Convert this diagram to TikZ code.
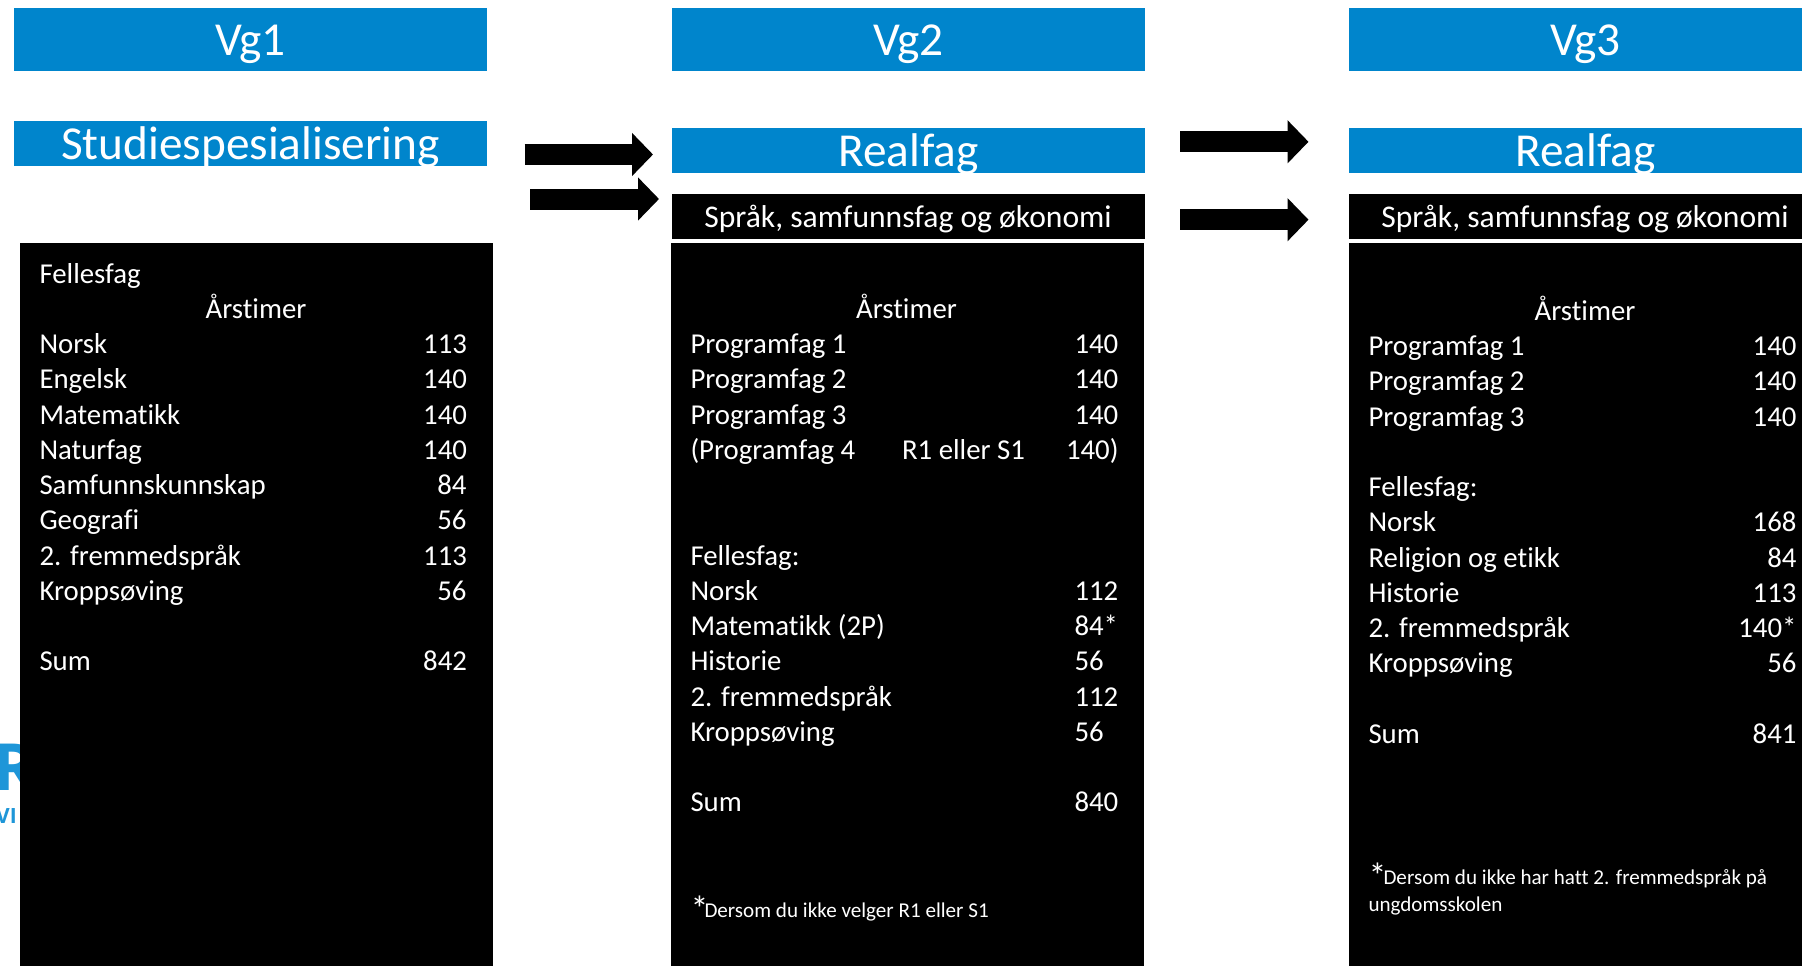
\documentclass[tikz,border=0pt]{standalone}
\usepackage{fontspec}
\setmainfont{Carlito}[Ligatures=CommonOff]
\newfontfamily\logofont{Open Sans}
\usetikzlibrary{arrows.meta}
\definecolor{headblue}{HTML}{0085CC}
\definecolor{logoblue}{HTML}{1E96D8}
\tikzset{
  headbox/.style={fill=headblue,draw=none},
  blackbox/.style={fill=black,draw=none},
  txt/.style={inner sep=0pt,outer sep=0pt,text=white,font=\fontsize{28.8}{35}\selectfont},
  rowl/.style={txt,anchor=base west},
  rowr/.style={txt,anchor=base east},
  rowc/.style={txt,anchor=base},
  headtxt/.style={inner sep=0pt,outer sep=0pt,text=white,anchor=base,font=\fontsize{47.3}{56}\selectfont},
  subtxt/.style={inner sep=0pt,outer sep=0pt,text=white,anchor=base,font=\fontsize{31.6}{38}\selectfont},
  foot/.style={inner sep=0pt,outer sep=0pt,text=white,anchor=base west,font=\fontsize{21.1}{25}\selectfont},
  star/.style={inner sep=0pt,outer sep=0pt,text=white,anchor=base west,font=\fontsize{36}{40}\selectfont},
  blockarrow/.style={line width=21pt,-{Triangle[length=21pt,width=42pt]}},
}
\begin{document}
\begin{tikzpicture}[x=1pt,y=-1pt]
\useasboundingbox (0,0) rectangle (1802,966);
\fill[white] (0,0) rectangle (1802,966);
% logo fragment
\begin{scope}
\clip (0,700) rectangle (20,840);
\node[inner sep=0pt,anchor=base west,text=logoblue,font=\logofont\bfseries\fontsize{65}{70}\selectfont] (logoa) at (-7,790) {R};
\node[inner sep=0pt,anchor=base west,text=logoblue,font=\logofont\bfseries\fontsize{21}{24}\selectfont] (logob) at (-4,823) {VI};
\end{scope}
% boxes
\fill[headbox] (14,8) rectangle (487,71);
\fill[headbox] (14,121) rectangle (487,166);
\fill[blackbox] (20,243) rectangle (493,966);
\fill[headbox] (672,8) rectangle (1145,71);
\fill[headbox] (672,128) rectangle (1145,173);
\fill[blackbox] (672,194) rectangle (1145,239);
\fill[blackbox] (671,243) rectangle (1144,966);
\fill[headbox] (1349,8) rectangle (1802,71);
\fill[headbox] (1349,128) rectangle (1802,173);
\fill[blackbox] (1349,194) rectangle (1802,239);
\fill[blackbox] (1349,243) rectangle (1802,966);
% arrows
\coordinate (a1s) at (524.5,154.5); \coordinate (a1e) at (653,154.5);
\coordinate (a2s) at (530,199); \coordinate (a2e) at (659,199);
\coordinate (a3s) at (1180,141.8); \coordinate (a3e) at (1308.5,141.8);
\coordinate (a4s) at (1180,219.7); \coordinate (a4e) at (1308.5,219.7);
\draw[blockarrow] (a1s) -- (a1e);
\draw[blockarrow] (a2s) -- (a2e);
\draw[blockarrow] (a3s) -- (a3e);
\draw[blockarrow] (a4s) -- (a4e);
% headers
\node[headtxt] (vg1) at (250.5,56) {Vg1};
\node[headtxt] (stu) at (250.5,159) {Studiespesialisering};
\node[headtxt] (vg2) at (908.5,56) {Vg2};
\node[headtxt] (rf2) at (908.5,166.5) {Realfag};
\node[subtxt] (sp2) at (908,227.5) {Språk, samfunnsfag og økonomi};
\node[headtxt] (vg3) at (1585.5,56) {Vg3};
\node[headtxt] (rf3) at (1585.5,166.5) {Realfag};
\node[subtxt] (sp3) at (1585,227.5) {Språk, samfunnsfag og økonomi};
% panel 1
\node[rowl] (p1h) at (39.5,283) {Fellesfag};
\node[rowc] (p1a) at (256,318.25) {Årstimer};
\node[rowl] (p1l1) at (39.5,353.5) {Norsk};          \node[rowr] (p1n1) at (467,353.5) {113};
\node[rowl] (p1l2) at (39.5,388.75) {Engelsk};        \node[rowr] (p1n2) at (467,388.75) {140};
\node[rowl] (p1l3) at (39.5,424) {Matematikk};     \node[rowr] (p1n3) at (467,424) {140};
\node[rowl] (p1l4) at (39.5,459.25) {Naturfag};       \node[rowr] (p1n4) at (467,459.25) {140};
\node[rowl] (p1l5) at (39.5,494.5) {Samfunnskunnskap}; \node[rowr] (p1n5) at (466.5,494.5) {84};
\node[rowl] (p1l6) at (39.5,529.75) {Geografi};       \node[rowr] (p1n6) at (466.5,529.75) {56};
\node[rowl] (p1l7) at (39.5,565) {2. fremmedspråk}; \node[rowr] (p1n7) at (467,565) {113};
\node[rowl] (p1l8) at (39.5,600.25) {Kroppsøving};    \node[rowr] (p1n8) at (466.5,600.25) {56};
\node[rowl] (p1l9) at (39.5,670.75) {Sum};            \node[rowr] (p1n9) at (467,670.75) {842};
% panel 2
\node[rowc] (p2a) at (906.5,318.25) {Årstimer};
\node[rowl] (p2l1) at (690.5,353.5) {Programfag 1};  \node[rowl] (p2n1) at (1074.5,353.5) {140};
\node[rowl] (p2l2) at (690.5,388.75) {Programfag 2};  \node[rowl] (p2n2) at (1074.5,388.75) {140};
\node[rowl] (p2l3) at (690.5,424) {Programfag 3};  \node[rowl] (p2n3) at (1074.5,424) {140};
\node[rowl] (p2l4) at (690.5,459.25) {(Programfag 4}; \node[rowl] (p2m4) at (902,459.25) {R1 eller S1}; \node[rowl] (p2n4) at (1066,459.25) {140)};
\node[rowl] (p2h) at (690.5,565) {Fellesfag:};
\node[rowl] (p2l5) at (690.5,600.25) {Norsk};         \node[rowl] (p2n5) at (1074.5,600.25) {112};
\node[rowl] (p2l6) at (690.5,635.5) {Matematikk (2P)}; \node[rowl] (p2n6) at (1074.5,635.5) {84*};
\node[rowl] (p2l7) at (690.5,670.75) {Historie};      \node[rowl] (p2n7) at (1074.5,670.75) {56};
\node[rowl] (p2l8) at (690.5,706) {2. fremmedspråk}; \node[rowl] (p2n8) at (1074.5,706) {112};
\node[rowl] (p2l9) at (690.5,741.25) {Kroppsøving};   \node[rowl] (p2n9) at (1074.5,741.25) {56};
\node[rowl] (p2l10) at (690.5,811.75) {Sum};          \node[rowl] (p2n10) at (1074.5,811.75) {840};
\node[star] (p2s) at (690.5,921) {*};
\node[foot] (p2f) at (704.5,917) {Dersom du ikke velger R1 eller S1};
% panel 3
\node[rowc] (p3a) at (1585,320.4) {Årstimer};
\node[rowl] (p3l1) at (1368.5,355.65) {Programfag 1}; \node[rowr] (p3n1) at (1796.5,355.65) {140};
\node[rowl] (p3l2) at (1368.5,390.9) {Programfag 2}; \node[rowr] (p3n2) at (1796.5,390.9) {140};
\node[rowl] (p3l3) at (1368.5,426.15) {Programfag 3}; \node[rowr] (p3n3) at (1796.5,426.15) {140};
\node[rowl] (p3h) at (1368.5,496.65) {Fellesfag:};
\node[rowl] (p3l4) at (1368.5,531.9) {Norsk};          \node[rowr] (p3n4) at (1796.5,531.9) {168};
\node[rowl] (p3l5) at (1368.5,567.15) {Religion og etikk}; \node[rowr] (p3n5) at (1796.5,567.15) {84};
\node[rowl] (p3l6) at (1368.5,602.4) {Historie};     \node[rowr] (p3n6) at (1796.5,602.4) {113};
\node[rowl] (p3l7) at (1368.5,637.65) {2. fremmedspråk}; \node[rowr] (p3n7) at (1796.5,637.65) {140*};
\node[rowl] (p3l8) at (1368.5,672.9) {Kroppsøving};  \node[rowr] (p3n8) at (1796.5,672.9) {56};
\node[rowl] (p3l9) at (1368.5,743.4) {Sum};          \node[rowr] (p3n9) at (1796.5,743.4) {841};
\node[star] (p3s) at (1368.5,888) {*};
\node[foot] (p3f1) at (1383.5,884) {Dersom du ikke har hatt 2. fremmedspråk på};
\node[foot] (p3f2) at (1368.5,911) {ungdomsskolen};
\end{tikzpicture}
\end{document}
